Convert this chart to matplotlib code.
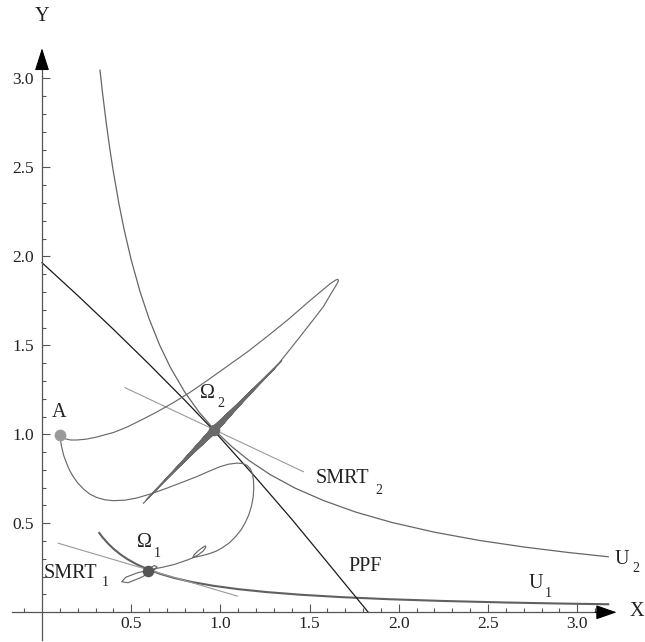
import matplotlib
matplotlib.use("Agg")
import matplotlib.pyplot as plt

plt.rcParams['font.family'] = ['Liberation Serif', 'DejaVu Serif']

# ---------------- data ----------------
# production possibility frontier
ppf_x = [0.0, 0.2, 0.4, 0.6, 0.8, 0.96, 1.2, 1.4, 1.6, 1.829]
ppf_y = [1.964, 1.780, 1.590, 1.394, 1.192, 1.024, 0.755, 0.523, 0.280, 0.0]

# indifference curve U2
u2_x = [0.325, 0.34, 0.36, 0.38, 0.40, 0.43, 0.46, 0.50, 0.55, 0.60, 0.66, 0.72, 0.80,
        0.88, 0.97, 1.06, 1.16, 1.28, 1.42, 1.58, 1.76, 1.96, 2.2, 2.45, 2.7, 2.95, 3.174]
u2_y = [3.046, 2.912, 2.750, 2.605, 2.475, 2.302, 2.152, 1.980, 1.800, 1.650, 1.500, 1.375,
        1.2375, 1.125, 1.021, 0.934, 0.853, 0.773, 0.697, 0.627, 0.5625, 0.505, 0.45, 0.404,
        0.367, 0.336, 0.312]

# indifference curve U1
u1_x = [0.321, 0.34, 0.37, 0.40, 0.44, 0.48, 0.53, 0.596, 0.66, 0.74, 0.84, 0.96, 1.1,
        1.26, 1.45, 1.68, 1.95, 2.25, 2.6, 2.9, 3.174]
u1_y = [0.4455, 0.4206, 0.3865, 0.3575, 0.325, 0.298, 0.270, 0.240, 0.2167, 0.1932, 0.1702,
        0.149, 0.130, 0.1135, 0.0986, 0.0851, 0.0733, 0.0636, 0.055, 0.0493, 0.0451]

# social marginal rates of transformation (tangent segments)
smrt1_x = [0.091, 1.095]
smrt1_y = [0.388, 0.091]
smrt2_x = [0.465, 1.465]
smrt2_y = [1.262, 0.790]

# special points
point_A = (0.101, 0.996)
omega1 = (0.596, 0.234)
omega2 = (0.964, 1.024)

# trajectory from A converging to Omega2 (big loop, then narrow oscillations)
traj2_x = [0.101, 0.129, 0.160, 0.196, 0.250, 0.308, 0.400, 0.475, 0.560, 0.643, 0.740, 0.830,
           0.930, 1.035, 1.150, 1.260, 1.380, 1.484, 1.560, 1.614, 1.645, 1.658, 1.662, 1.652,
           1.620, 1.577, 1.510, 1.446, 1.370, 1.297, 1.220, 1.147, 1.070, 0.998, 0.964,
           0.568, 0.957, 1.344, 0.971, 0.585, 0.957, 1.326, 0.971, 0.686, 0.9525, 1.228,
           0.9755, 0.727, 0.9525, 1.187, 0.9755, 0.755, 0.9525, 1.159, 0.9755, 0.783, 0.9525,
           1.131, 0.9755, 0.811, 0.9525, 1.103, 0.9755, 0.846, 0.955, 1.068, 0.973, 0.881,
           0.957, 1.034, 0.971, 0.915, 0.960, 0.999, 0.964]
traj2_y = [0.996, 0.975, 0.968, 0.968, 0.973, 0.985, 1.010, 1.040, 1.082, 1.125, 1.180, 1.236,
           1.305, 1.380, 1.462, 1.548, 1.645, 1.736, 1.800, 1.845, 1.866, 1.871, 1.862, 1.843,
           1.790, 1.717, 1.630, 1.548, 1.452, 1.361, 1.284, 1.211, 1.136, 1.062, 1.024,
           0.612, 1.031, 1.413, 1.017, 0.633, 1.031, 1.397, 1.017, 0.737, 1.035, 1.297,
           1.013, 0.780, 1.035, 1.254, 1.013, 0.809, 1.035, 1.225, 1.013, 0.837, 1.035,
           1.196, 1.013, 0.866, 1.035, 1.168, 1.013, 0.902, 1.033, 1.132, 1.015, 0.938,
           1.031, 1.096, 1.017, 0.974, 1.028, 1.060, 1.024]

# trajectory from A converging to Omega1
traj1_x = [0.101, 0.104, 0.110, 0.122, 0.138, 0.155, 0.175, 0.200, 0.232, 0.268, 0.307, 0.352,
           0.400, 0.465, 0.531, 0.615, 0.699, 0.785, 0.867, 0.935, 0.998, 1.045, 1.091, 1.125,
           1.150, 1.168, 1.179, 1.185, 1.187, 1.184, 1.175, 1.160, 1.140, 1.115, 1.085, 1.050,
           1.010, 0.975, 0.940, 0.905, 0.870, 0.846, 0.852, 0.875, 0.900, 0.916, 0.918, 0.905,
           0.880, 0.850, 0.818, 0.780, 0.746, 0.713, 0.680, 0.640, 0.600, 0.538, 0.470, 0.447,
           0.482, 0.554, 0.622, 0.645, 0.630, 0.605, 0.596]
traj1_y = [0.996, 0.965, 0.930, 0.880, 0.837, 0.797, 0.762, 0.727, 0.693, 0.664, 0.645, 0.632,
           0.627, 0.630, 0.642, 0.667, 0.697, 0.730, 0.762, 0.792, 0.818, 0.832, 0.838, 0.836,
           0.825, 0.806, 0.780, 0.745, 0.700, 0.649, 0.600, 0.550, 0.505, 0.462, 0.425, 0.390,
           0.362, 0.343, 0.330, 0.320, 0.312, 0.309, 0.322, 0.345, 0.364, 0.373, 0.365, 0.346,
           0.326, 0.308, 0.295, 0.282, 0.270, 0.262, 0.254, 0.246, 0.236, 0.223, 0.197, 0.172,
           0.166, 0.195, 0.232, 0.255, 0.263, 0.248, 0.234]

x_major = [0.5, 1.0, 1.5, 2.0, 2.5, 3.0]
y_major = [0.5, 1.0, 1.5, 2.0, 2.5, 3.0]
tick_labels = ['0.5', '1.0', '1.5', '2.0', '2.5', '3.0']

# ---------------- figure ----------------
fig = plt.figure(figsize=(6.45, 6.42), dpi=100)
ax = fig.add_axes([0, 0, 1, 1])
ax.set_xlim(-0.2354, 3.380)
ax.set_ylim(-0.1669, 3.440)

axis_col = '#555555'
for s in ['top', 'right']:
    ax.spines[s].set_visible(False)
ax.spines['left'].set_position(('data', 0))
ax.spines['bottom'].set_position(('data', 0))
ax.spines['left'].set_bounds(-0.155, 3.10)
ax.spines['bottom'].set_bounds(-0.168, 3.16)
for s in ['left', 'bottom']:
    ax.spines[s].set_color(axis_col)
    ax.spines[s].set_linewidth(0.9)

ax.set_xticks(x_major)
ax.set_xticklabels(tick_labels)
ax.set_yticks(y_major)
ax.set_yticklabels(tick_labels)
x_minor = [round(-0.1 + 0.1 * i, 1) for i in range(33)]
x_minor = [v for v in x_minor if v not in x_major and abs(v) > 1e-9]
y_minor = [round(0.1 * i, 1) for i in range(1, 31)]
y_minor = [v for v in y_minor if v not in y_major]
ax.set_xticks(x_minor, minor=True)
ax.set_yticks(y_minor, minor=True)
ax.tick_params(which='both', direction='in', color=axis_col, width=0.8)
ax.tick_params(which='major', length=5.5)
ax.tick_params(which='minor', length=3)
ax.tick_params(axis='x', which='major', labelsize=12.5, pad=3, labelcolor='#222222')
ax.tick_params(axis='y', which='major', labelsize=12.5, pad=6, labelcolor='#222222')

# arrow heads
ax.annotate('', xy=(3.221, 0), xytext=(3.10, 0),
            arrowprops=dict(arrowstyle='-|>,head_length=1.3,head_width=0.45',
                            mutation_scale=10, color='black', lw=0.8,
                            shrinkA=0, shrinkB=0))
ax.annotate('', xy=(0, 3.169), xytext=(0, 3.05),
            arrowprops=dict(arrowstyle='-|>,head_length=1.4,head_width=0.45',
                            mutation_scale=10, color='black', lw=0.8,
                            shrinkA=0, shrinkB=0))

# curves
ax.plot(u2_x, u2_y, color='#666666', lw=0.9, solid_joinstyle='round')
ax.plot(u1_x, u1_y, color='#606060', lw=1.5, solid_joinstyle='round')
ax.plot(ppf_x, ppf_y, color='#1a1a1a', lw=0.9, solid_joinstyle='round')
ax.plot(smrt1_x, smrt1_y, color='#9a9a9a', lw=0.8)
ax.plot(smrt2_x, smrt2_y, color='#9a9a9a', lw=0.8)
ax.plot(traj2_x, traj2_y, color='#6a6a6a', lw=0.85, solid_joinstyle='round')
ax.plot(traj1_x, traj1_y, color='#6a6a6a', lw=0.85, solid_joinstyle='round')

# points
ax.plot(*point_A, 'o', ms=8.5, color='#9a9a9a', mec='none', zorder=5)
ax.plot(*omega1, 'o', ms=8.3, color='#555555', mec='none', zorder=5)
ax.plot(*omega2, 'o', ms=8.3, color='#6a6a6a', mec='none', zorder=5)

# labels (main text + separate subscript, Mathematica style)
tc = '#222222'
fs, fss = 14.5, 10
ax.text(0.0, 3.346, 'Y', ha='center', va='center', fontsize=fs, color=tc)
ax.text(3.334, 0.003, 'X', ha='center', va='center', fontsize=fs, color=tc)
ax.text(0.097, 1.124, 'A', ha='center', va='center', fontsize=fs, color=tc)
ax.text(0.928, 1.230, 'Ω', ha='center', va='center', fontsize=fs, color=tc)
ax.text(1.000, 1.172, '2', ha='center', va='center', fontsize=fss, color=tc)
ax.text(0.577, 0.391, 'Ω', ha='center', va='center', fontsize=fs, color=tc)
ax.text(0.647, 0.331, '1', ha='center', va='center', fontsize=fss, color=tc)
ax.text(0.158, 0.219, 'SMRT', ha='center', va='center', fontsize=fs, color=tc)
ax.text(0.356, 0.170, '1', ha='center', va='center', fontsize=fss, color=tc)
ax.text(1.683, 0.753, 'SMRT', ha='center', va='center', fontsize=fs, color=tc)
ax.text(1.890, 0.685, '2', ha='center', va='center', fontsize=fss, color=tc)
ax.text(1.814, 0.256, 'PPF', ha='center', va='center', fontsize=fs, color=tc)
ax.text(3.250, 0.298, 'U', ha='center', va='center', fontsize=fs, color=tc)
ax.text(3.328, 0.245, '2', ha='center', va='center', fontsize=fss, color=tc)
ax.text(2.770, 0.159, 'U', ha='center', va='center', fontsize=fs, color=tc)
ax.text(2.837, 0.106, '1', ha='center', va='center', fontsize=fss, color=tc)

fig.savefig('out.png', dpi=100)
